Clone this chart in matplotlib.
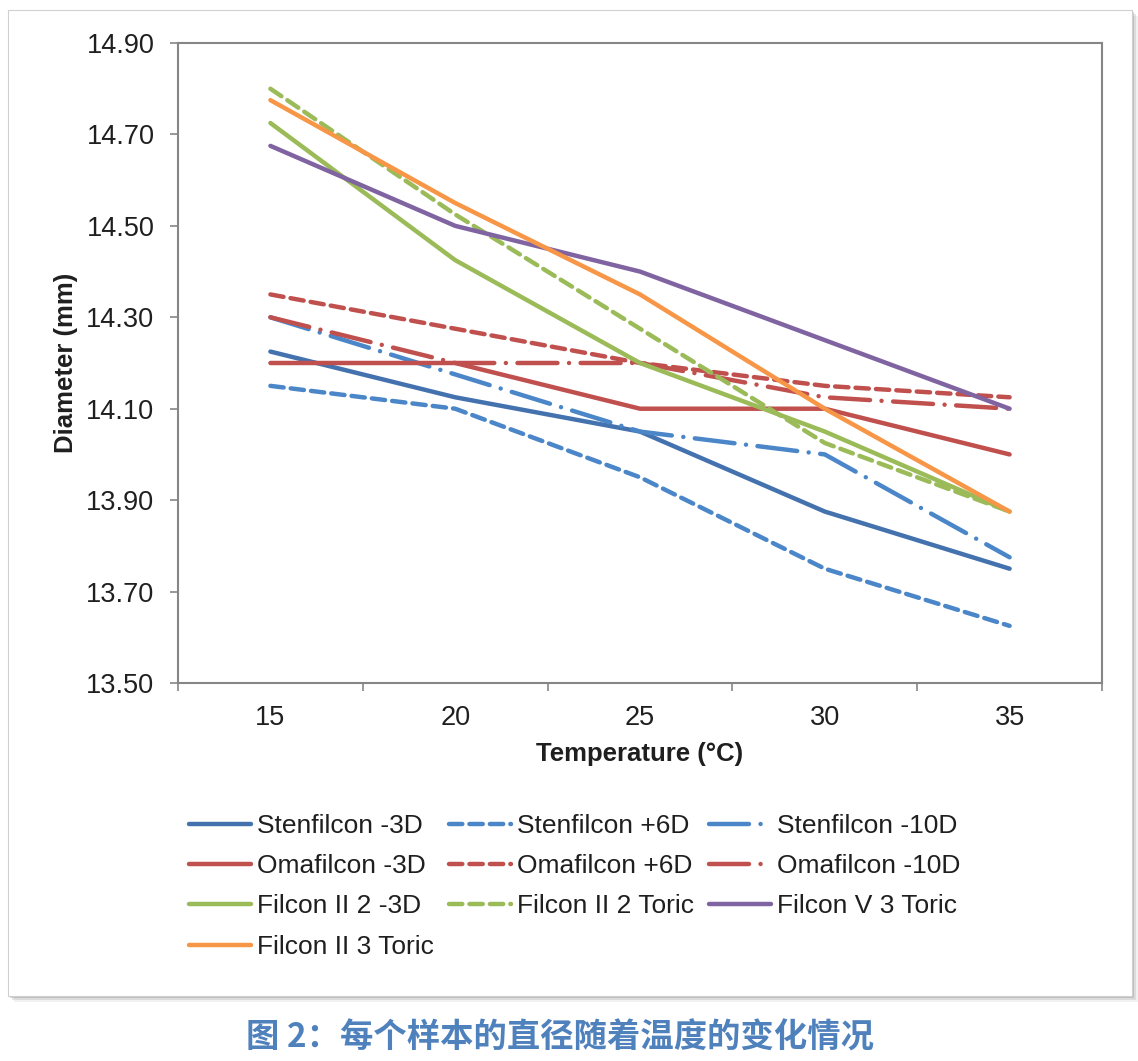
"""
Diameter vs temperature for each lens sample (Figure 2 recreation).

Usage:
    python3 plot.py
"""

import matplotlib
matplotlib.use("Agg")
import matplotlib.pyplot as plt
from matplotlib.patches import Rectangle
from matplotlib.ticker import FixedLocator, FormatStrFormatter, NullFormatter

# --- data -----------------------------------------------------------------
temperatures = [15, 20, 25, 30, 35]

stenfilcon_m3 = [14.225, 14.125, 14.05, 13.875, 13.75]
stenfilcon_p6 = [14.15, 14.10, 13.95, 13.75, 13.625]
stenfilcon_m10 = [14.30, 14.175, 14.05, 14.00, 13.775]
omafilcon_m3 = [14.20, 14.20, 14.10, 14.10, 14.00]
omafilcon_p6 = [14.35, 14.275, 14.20, 14.15, 14.125]
omafilcon_m10 = [14.30, 14.20, 14.20, 14.125, 14.10]
filcon2_2_m3 = [14.725, 14.425, 14.20, 14.05, 13.875]
filcon2_2_toric = [14.80, 14.525, 14.275, 14.025, 13.875]
filcon5_3_toric = [14.675, 14.50, 14.40, 14.25, 14.10]
filcon2_3_toric = [14.775, 14.55, 14.35, 14.10, 13.875]

series_labels = [
    "Stenfilcon -3D", "Stenfilcon +6D", "Stenfilcon -10D",
    "Omafilcon -3D", "Omafilcon +6D", "Omafilcon -10D",
    "Filcon II 2 -3D", "Filcon II 2 Toric", "Filcon V 3 Toric",
    "Filcon II 3 Toric",
]
y_ticks = [13.50, 13.70, 13.90, 14.10, 14.30, 14.50, 14.70, 14.90]
caption = "图 2：每个样本的直径随着温度的变化情况"

# --- styles ---------------------------------------------------------------
BLUE_DARK = "#4472AE"
BLUE = "#4A86C8"
RED = "#C0504D"
GREEN = "#9BBB59"
PURPLE = "#8064A2"
ORANGE = "#F79646"
GRID_GRAY = "#868686"
TEXT = "#1F1F1F"

SOLID = "-"
SHORT_DASH = (0, (3, 1.6))
LONG_DASH_DOT = (0, (9, 2.6, 0.01, 2.6))

W, H, DPI = 1138, 1061, 100


def px_x(x):
    return x / W


def px_y(y):
    return 1 - y / H


def draw_frame(fig):
    """Outer chart frame with a soft drop shadow."""
    x0, y0, x1, y1 = 8, 10, 1132, 996
    for off, alpha in [(6, 0.10), (4, 0.18), (2, 0.30)]:
        fig.patches.append(Rectangle(
            (px_x(x0 + off), px_y(y1 + off)), (x1 - x0) / W, (y1 - y0) / H,
            transform=fig.transFigure, facecolor="#7f7f7f", edgecolor="none",
            alpha=alpha, zorder=0))
    fig.patches.append(Rectangle(
        (px_x(x0), px_y(y1)), (x1 - x0) / W, (y1 - y0) / H,
        transform=fig.transFigure, facecolor="white", edgecolor="#d0d0d0",
        linewidth=0.8, zorder=0.5))


def main():
    plt.rcParams["font.family"] = ["Liberation Sans", "DejaVu Sans"]

    fig = plt.figure(figsize=(W / DPI, H / DPI), dpi=DPI)
    draw_frame(fig)

    left, top, right, bottom = 178, 43, 1102, 683
    ax = fig.add_axes([px_x(left), px_y(bottom), (right - left) / W, (bottom - top) / H])
    ax.set_zorder(2)

    series = [
        (stenfilcon_m3, BLUE_DARK, SOLID),
        (stenfilcon_p6, BLUE, SHORT_DASH),
        (stenfilcon_m10, BLUE, LONG_DASH_DOT),
        (omafilcon_m3, RED, SOLID),
        (omafilcon_p6, RED, SHORT_DASH),
        (omafilcon_m10, RED, LONG_DASH_DOT),
        (filcon2_2_m3, GREEN, SOLID),
        (filcon2_2_toric, GREEN, SHORT_DASH),
        (filcon5_3_toric, PURPLE, SOLID),
        (filcon2_3_toric, ORANGE, SOLID),
    ]
    handles = []
    for (values, color, style), label in zip(series, series_labels):
        (line,) = ax.plot(temperatures, values, color=color, linestyle=style,
                          linewidth=3.2, label=label, solid_capstyle="round",
                          dash_capstyle="round")
        handles.append(line)

    # category-style x axis: ticks between categories, labels on categories
    ax.set_xlim(12.5, 37.5)
    ax.xaxis.set_major_locator(FixedLocator([12.5, 17.5, 22.5, 27.5, 32.5, 37.5]))
    ax.xaxis.set_major_formatter(NullFormatter())
    ax.xaxis.set_minor_locator(FixedLocator(temperatures))
    ax.set_xticklabels([str(t) for t in temperatures], minor=True)
    ax.tick_params(axis="x", which="major", direction="out", length=6,
                   width=1.2, color=GRID_GRAY)
    ax.tick_params(axis="x", which="minor", length=0, pad=16,
                   labelsize=19.5, labelcolor=TEXT)

    ax.set_ylim(13.5, 14.9)
    ax.set_yticks(y_ticks)
    ax.yaxis.set_major_formatter(FormatStrFormatter("%.2f"))
    ax.tick_params(axis="y", direction="out", length=6, width=1.2,
                   color=GRID_GRAY, pad=11, labelsize=19.5, labelcolor=TEXT)

    for spine in ax.spines.values():
        spine.set_color(GRID_GRAY)
        spine.set_linewidth(1.5)

    ax.set_xlabel("Temperature (°C)", fontsize=18.5, fontweight="bold", color=TEXT)
    ax.xaxis.set_label_coords(0.5, -0.092)
    ax.set_ylabel("Diameter (mm)", fontsize=18.5, fontweight="bold", color=TEXT)
    ax.yaxis.set_label_coords(-0.108, 0.5)

    # row-major legend order in 3 columns
    order = [0, 3, 6, 9, 1, 4, 7, 2, 5, 8]
    fig.legend([handles[i] for i in order], [series_labels[i] for i in order],
               ncol=3, loc="upper left",
               bbox_to_anchor=(px_x(165), px_y(790)),
               frameon=False, fontsize=19, handlelength=2.35,
               handletextpad=0.25, columnspacing=0.55, labelspacing=0.62,
               labelcolor=TEXT)

    fig.text(px_x(560), px_y(1038), caption, ha="center", va="center",
             fontsize=24, fontweight="bold", color="#4F81BD",
             family=["Noto Sans CJK SC", "DejaVu Sans"])

    fig.savefig("out.png", dpi=DPI, facecolor="white")
    plt.close(fig)


if __name__ == "__main__":
    main()
